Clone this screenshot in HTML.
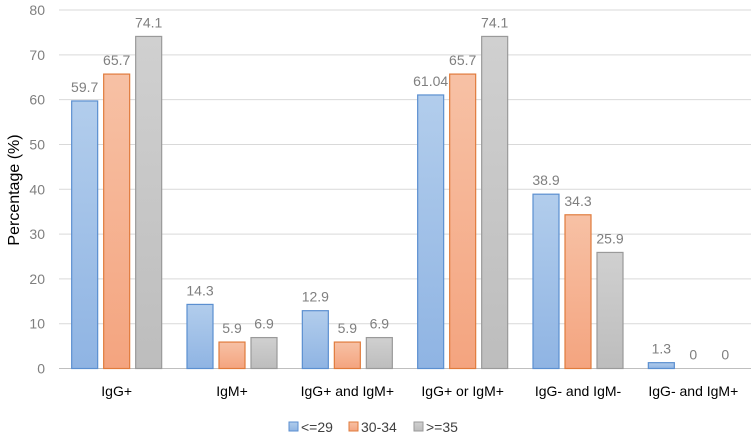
<!DOCTYPE html>
<html><head><meta charset="utf-8"><style>
body{margin:0;background:#fff;font-family:"Liberation Sans",sans-serif}
</style></head><body>
<svg width="751" height="437" id="c" xmlns="http://www.w3.org/2000/svg">
<defs>
<linearGradient id="gb" x1="0" y1="0" x2="0" y2="1"><stop offset="0" stop-color="#b2cdec"/><stop offset="1" stop-color="#8fb4e3"/></linearGradient>
<linearGradient id="go" x1="0" y1="0" x2="0" y2="1"><stop offset="0" stop-color="#f7c1a5"/><stop offset="1" stop-color="#f4a47f"/></linearGradient>
<linearGradient id="gg" x1="0" y1="0" x2="0" y2="1"><stop offset="0" stop-color="#d0d0d0"/><stop offset="1" stop-color="#bdbdbd"/></linearGradient>
</defs>
<text transform="translate(19,190) rotate(-90)" text-anchor="middle" font-size="16" fill="#000">Percentage (%)</text>
<g id="grid"></g><g id="bars"></g>
<g font-size="14" fill="#404040">
<rect x="289" y="422" width="9" height="9" fill="url(#gb)" stroke="#5b8fd0"/><text x="301" y="432">&lt;=29</text>
<rect x="349" y="422" width="9" height="9" fill="url(#go)" stroke="#e07b3c"/><text x="361" y="432">30-34</text>
<rect x="414" y="422" width="9" height="9" fill="url(#gg)" stroke="#9a9a9a"/><text x="426" y="432">&gt;=35</text>
</g>
</svg>
<script>
const categories=["IgG+","IgM+","IgG+ and IgM+","IgG+ or IgM+","IgG- and IgM-","IgG- and IgM+"];
const s1=[59.7,14.3,12.9,61.04,38.9,1.3];
const s2=[65.7,5.9,5.9,65.7,34.3,0];
const s3=[74.1,6.9,6.9,74.1,25.9,0];
const ticks=[0,10,20,30,40,50,60,70,80];
const NS="http://www.w3.org/2000/svg";
const x0=59,x1=751,yb=368.5,yt=10;
const y=v=>yb-(v/80)*(yb-yt);
const cw=(x1-x0)/categories.length;
const g=document.getElementById('grid'),b=document.getElementById('bars');
function mk(t,a,p){const e=document.createElementNS(NS,t);for(const k in a)e.setAttribute(k,a[k]);p.appendChild(e);return e;}
ticks.forEach(t=>{
 const l=mk('line',{x1:x0,x2:x1,y1:y(t),y2:y(t),stroke:t==0?'#bfbfbf':'#d9d9d9','stroke-width':1},g);
 
 
 const tx=mk('text',{x:45,y:y(t)+5,'text-anchor':'end','font-size':14,fill:'#7f7f7f'},g);
 tx.textContent=t;
 
 
});
const series=[[s1,'url(#gb)','#5b8fd0'],[s2,'url(#go)','#e07b3c'],[s3,'url(#gg)','#9a9a9a']];
categories.forEach((c,i)=>{
 const cx=x0+cw*(i+0.5);
 const t=mk('text',{x:cx,y:396,'text-anchor':'middle','font-size':14,fill:'#000'},g);
 t.textContent=c;
 
 
 series.forEach((s,j)=>{
  const v=s[0][i];const bx=cx-45+j*32;
  if(v>0){const r=mk('rect',{x:bx,y:y(v),width:26,height:yb-y(v),fill:s[1],stroke:s[2],'stroke-width':1.2},b);
  
  }
  const lb=mk('text',{x:bx+13,y:y(v)-9,'text-anchor':'middle','font-size':14,fill:'#7f7f7f'},b);
  lb.textContent=v;
  
  
 });
});
</script>
</body></html>
